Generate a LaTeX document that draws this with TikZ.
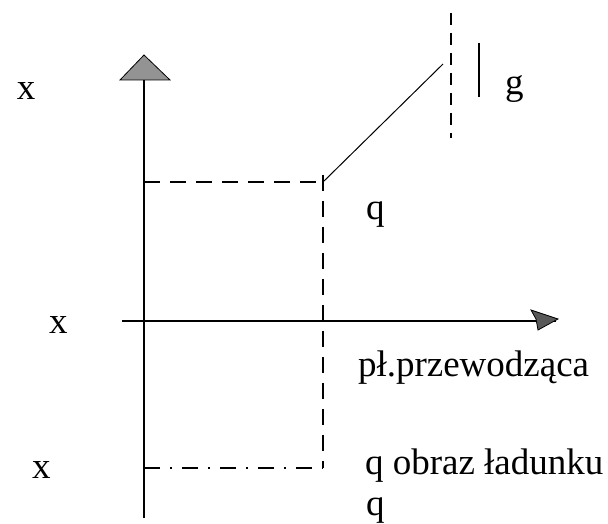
\documentclass[tikz,border=0pt]{standalone}
\usepackage{fontspec}
\setmainfont{Liberation Serif}
\begin{document}
\begin{tikzpicture}[x=0.5pt,y=-0.5pt,
  lbl/.style={anchor=base west,inner sep=0pt,outer sep=0pt,font=\fontsize{18.5}{21}\selectfont},
  axisline/.style={line width=0.8pt},
  thinline/.style={line width=0.5pt},
  dashline/.style={line width=0.6pt,dash pattern=on 8pt off 5pt},
  dashdotline/.style={line width=0.6pt,dash pattern=on 8pt off 5pt on 1pt off 5pt},
  headshape/.style={draw=black,line width=0.4pt,fill=gray!85}
]
\useasboundingbox (0,0) rectangle (608,523);
% coordinates
\coordinate (ytop) at (144,55);
\coordinate (ybot) at (144,518);
\coordinate (xleft) at (122,321);
\coordinate (xright) at (556,321);
\coordinate (qA) at (144,182);
\coordinate (qB) at (323,182);
\coordinate (qT) at (323,175);
\coordinate (qC) at (323,468);
\coordinate (iA) at (144,468);
\coordinate (gEnd) at (443,64);
\coordinate (dTop) at (451,13);
\coordinate (dBot) at (451,138);
\coordinate (sTop) at (479,43);
\coordinate (sBot) at (479,97);
% axes
\draw[axisline] (ybot) -- (ytop);
\draw[axisline] (xleft) -- (xright);
\filldraw[headshape] (120,80) -- (ytop) -- (170,80) -- cycle;
\filldraw[headshape,fill=gray!70!black] (558,319) -- (531,310) -- (536,319) -- (538,330) -- cycle;
% dashed construction
\draw[dashline] (qA) -- (qB);
\draw[dashline] (qT) -- (qC);
\draw[dashdotline] (iA) -- (qC);
\draw[axisline] (iA) -- ++(11,0);
\draw[thinline] (qB) -- (gEnd);
\draw[dashline,dash pattern=on 6pt off 4pt] (dTop) -- (dBot);
\draw[axisline] (sTop) -- (sBot);
% labels
\node[lbl] (x1) at (17,100) {x};
\node[lbl] (g) at (505,95) {g};
\node[lbl] (q1) at (366,220) {q};
\node[lbl] (x2) at (49,333) {x};
\node[lbl] (plate) at (358,376) {pł.przewodząca};
\node[lbl] (x3) at (32,478) {x};
\node[lbl] (img) at (365,474) {q obraz ładunku};
\node[lbl] (q2) at (366,515) {q};
\end{tikzpicture}
\end{document}
